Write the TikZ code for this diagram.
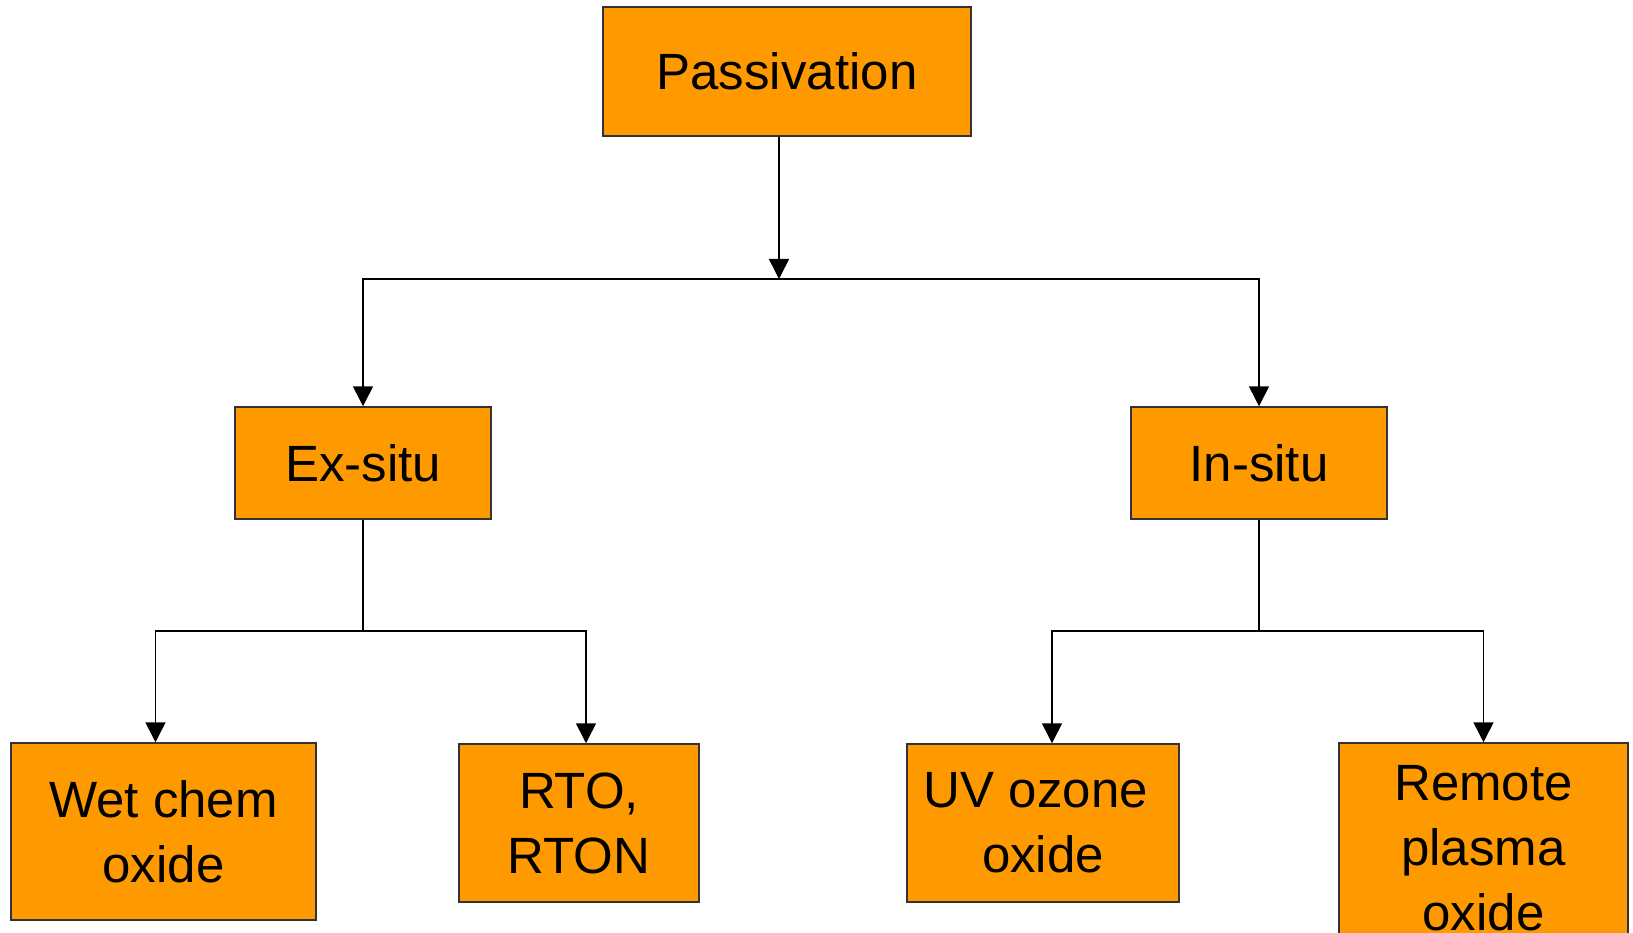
\documentclass[tikz,border=0pt]{standalone}
\usepackage{fontspec}
\setmainfont{Liberation Sans}
\definecolor{passorange}{HTML}{FF9900}
\definecolor{passedge}{HTML}{333333}
\usetikzlibrary{arrows.meta,positioning,calc}

\tikzset{
  blok/.style={draw=passedge, line width=1.5pt, rectangle, fill=passorange, inner sep=0pt, align=center,
    font=\fontsize{51}{65}\selectfont},
  link/.style={line width=1.6pt},
  arr/.style={link, -{Triangle[length=20pt,width=20pt]}}
}

\begin{document}
\begin{tikzpicture}[x=1pt, y=-1pt]
      \useasboundingbox (0,0) rectangle (1633,933);
      \clip (0,0) rectangle (1633,933);

      \node (pass) [blok, minimum width=368pt, minimum height=129pt] at (787,71.5) {Passivation};
      \node (exsitu) [blok, minimum width=256pt, minimum height=112pt] at (363,463) {Ex-situ};
      \node (insitu) [blok, minimum width=256pt, minimum height=112pt] at (1259,463) {In-situ};
      \node (wet) [blok, minimum width=305pt, minimum height=177pt] at (163.5,831.5) {Wet chem\\oxide};
      \node (rto) [blok, minimum width=240pt, minimum height=158pt] at (579,823) {RTO,\\RTON};
      \node (uv) [blok, minimum width=272pt, minimum height=158pt] at (1043,823) {UV ozone\hphantom{ }\\oxide};
      \node (remote) [blok, minimum width=289pt, minimum height=210pt] at (1483.5,848) {Remote\\plasma\\oxide};

      \coordinate (top) at (779,279);
      \coordinate (exj) at (363,631);
      \coordinate (inj) at (1259,631);

      \draw [arr] (pass.south -| top) -- (top);
      \draw [arr] (top) -| (exsitu.north);
      \draw [arr] (top) -| (insitu.north);

      \draw [link] (exsitu.south) -- (exj);
      \draw [arr] (exj) -| ([xshift=-8pt]wet.north);
      \draw [arr] (exj) -| ([xshift=7pt]rto.north);

      \draw [link] (insitu.south) -- (inj);
      \draw [arr] (inj) -| ([xshift=9pt]uv.north);
      \draw [arr] (inj) -| (remote.north);
    \end{tikzpicture}
\end{document}
